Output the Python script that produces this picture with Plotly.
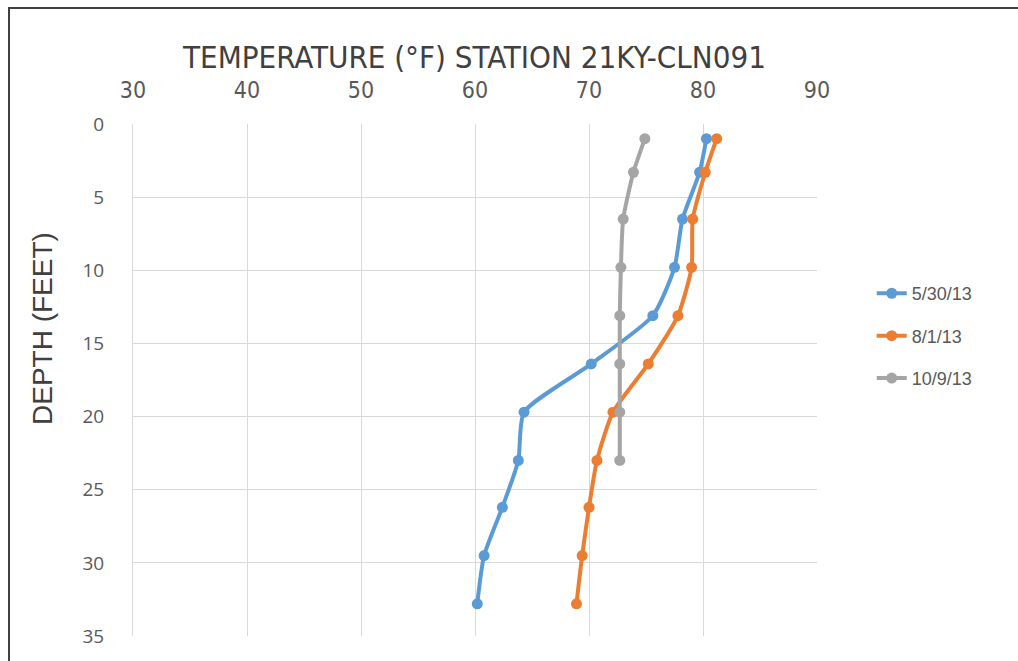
import plotly.graph_objects as go

# Data
depth_5_30 = [1.0, 3.3, 6.5, 9.8, 13.1, 16.4, 19.7, 23.0, 26.2, 29.5, 32.8]
temp_5_30 = [80.3, 79.7, 78.2, 77.5, 75.6, 70.2, 64.3, 63.8, 62.4, 60.8, 60.2]

depth_8_1 = [1.0, 3.3, 6.5, 9.8, 13.1, 16.4, 19.7, 23.0, 26.2, 29.5, 32.8]
temp_8_1 = [81.2, 80.2, 79.1, 79.0, 77.8, 75.2, 72.1, 70.7, 70.0, 69.4, 68.9]

depth_10_9 = [1.0, 3.3, 6.5, 9.8, 13.1, 16.4, 19.7, 23.0]
temp_10_9 = [74.9, 73.9, 73.0, 72.8, 72.7, 72.7, 72.7, 72.7]

series_names = ["5/30/13", "8/1/13", "10/9/13"]
series_colors = ["#5B9BD5", "#ED7D31", "#A5A5A5"]

x_ticks = [30, 40, 50, 60, 70, 80, 90]
y_ticks = [0, 5, 10, 15, 20, 25, 30, 35]

fig = go.Figure()
for name, color, xs, ys in zip(series_names, series_colors,
                               [temp_5_30, temp_8_1, temp_10_9],
                               [depth_5_30, depth_8_1, depth_10_9]):
    fig.add_trace(go.Scatter(
        x=xs, y=ys, name=name, legendgroup=name, mode="lines+markers",
        line=dict(color=color, width=4, shape="spline", smoothing=0.6),
        marker=dict(color=color, size=11),
    ))

fig.update_layout(
    width=1018, height=661,
    margin=dict(l=133, r=201, t=124, b=25),
    paper_bgcolor="white", plot_bgcolor="white",
    font=dict(family="Liberation Sans, Arial", color="#595959"),
    showlegend=True,
    legend=dict(
        x=1.08, y=0.705, xanchor="left", yanchor="top",
        font=dict(size=18, color="#595959", family="Liberation Sans, Arial"),
        traceorder="grouped", tracegroupgap=16,
        bgcolor="rgba(0,0,0,0)",
    ),
    xaxis=dict(
        side="top", range=[30, 90], tickvals=x_ticks,
        showgrid=True, gridcolor="#D9D9D9", gridwidth=1,
        zeroline=False, showline=False,
        ticks="outside", ticklen=16, tickcolor="rgba(0,0,0,0)",
        tickfont=dict(size=23, family="DejaVu Sans Condensed, Liberation Sans, Arial", color="#595959"),
    ),
    yaxis=dict(
        range=[35, 0], tickvals=y_ticks,
        showgrid=True, gridcolor="#D9D9D9", gridwidth=1,
        zeroline=False, showline=True, linecolor="#D9D9D9", linewidth=1,
        ticks="outside", ticklen=24, tickcolor="rgba(0,0,0,0)",
        tickfont=dict(size=19, family="Open Sans, Liberation Sans, Arial", color="#595959"),
    ),
    annotations=[
        dict(
            text="TEMPERATURE (°F) STATION 21KY-CLN091", showarrow=False,
            xref="paper", yref="paper", x=(474 - 133) / 684, y=(636 - 57) / 512,
            xanchor="center", yanchor="middle",
            font=dict(size=31, family="DejaVu Sans Condensed, Liberation Sans, Arial", color="#404040"),
        ),
        dict(
            text="DEPTH (FEET)", textangle=-90, showarrow=False,
            xref="paper", yref="paper", x=-91 / 684, y=(636 - 329) / 512,
            xanchor="center", yanchor="middle",
            font=dict(size=28, family="Liberation Sans, Arial", color="#404040"),
        ),
    ],
)

# Outer chart frame
fig.add_shape(type="rect", xref="paper", yref="paper",
              x0=-124 / 684, x1=1.5, y0=-0.2, y1=(124 - 8) / 512 + 1,
              line=dict(color="#404040", width=2), layer="below")

fig.write_html("out.html")
